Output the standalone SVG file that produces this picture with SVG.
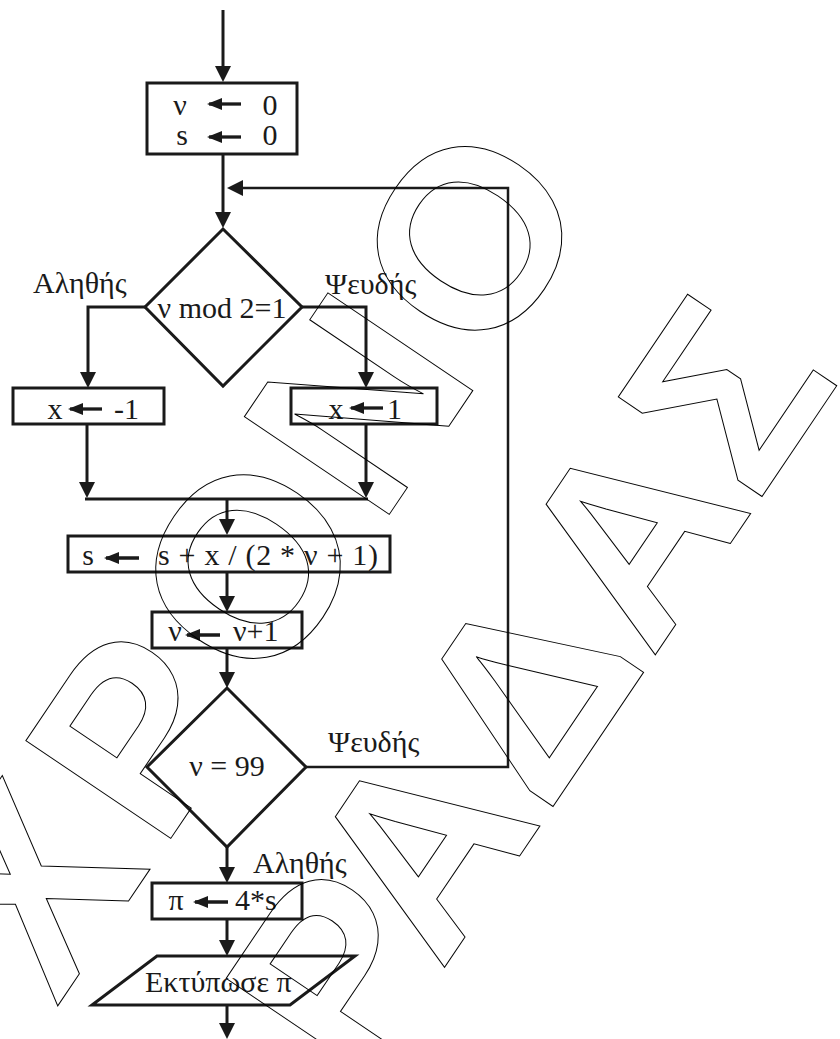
<svg xmlns="http://www.w3.org/2000/svg" width="840" height="1039" viewBox="0 0 840 1039">
<style>
.ln{fill:none;stroke:#1a1a1a;stroke-width:3}
.lp{fill:none;stroke:#1a1a1a;stroke-width:2.5}
.box{fill:none;stroke:#1a1a1a;stroke-width:3}
.sa{fill:none;stroke:#1a1a1a;stroke-width:3.3}
.t{font-family:"Liberation Serif","Times New Roman",serif;font-size:30px;fill:#1a1a1a}
.m{text-anchor:middle}
.wm{font-family:"Liberation Sans",Arial,sans-serif;font-weight:bold;font-size:254px;fill:none;stroke:#000;stroke-width:1}
</style>
<defs>
<marker id="ah" viewBox="0 0 16 16" markerUnits="userSpaceOnUse" markerWidth="16" markerHeight="16" refX="12" refY="8" orient="auto"><path d="M0,0 L16,8 L0,16 z" fill="#1a1a1a"/></marker>
<marker id="sh" viewBox="0 0 15 12" markerUnits="userSpaceOnUse" markerWidth="15" markerHeight="12" refX="13" refY="6" orient="auto"><path d="M0,0 L15,6 L0,12 z" fill="#1a1a1a"/></marker>
</defs>
<rect width="840" height="1039" fill="#fff"/>
<g id="connectors">
<path class="ln" d="M223,10 V78" marker-end="url(#ah)"/>
<path class="ln" d="M223,154 V224" marker-end="url(#ah)"/>
<path class="lp" d="M306,767 H508 V188 H231" marker-end="url(#ah)"/>
<path class="ln" d="M145,307 H88 V384" marker-end="url(#ah)"/>
<path class="ln" d="M302,307 H366 V384" marker-end="url(#ah)"/>
<path class="ln" d="M87,424 V494" marker-end="url(#ah)"/>
<path class="ln" d="M366,424 V494" marker-end="url(#ah)"/>
<path class="ln" d="M85,499 H368"/>
<path class="ln" d="M227,499 V531" marker-end="url(#ah)"/>
<path class="ln" d="M227,572 V608" marker-end="url(#ah)"/>
<path class="ln" d="M227,648 V684" marker-end="url(#ah)"/>
<path class="ln" d="M227,847 V879" marker-end="url(#ah)"/>
<path class="ln" d="M227,919 V952" marker-end="url(#ah)"/>
<path class="ln" d="M227,1005 V1035" marker-end="url(#ah)"/>
<text class="t" x="33" y="293">Αληθής</text>
<text class="t" x="325" y="294">Ψευδής</text>
<text class="t" x="328" y="752">Ψευδής</text>
<text class="t" x="253" y="873">Αληθής</text>
</g>
<g id="init">
<rect class="box" x="147" y="83" width="150" height="71"/>
<text class="t m" x="180" y="115">ν</text>
<path class="sa" d="M241,104 H209" marker-end="url(#sh)"/>
<text class="t m" x="270" y="115">0</text>
<text class="t m" x="182" y="145">s</text>
<path class="sa" d="M241,137 H209" marker-end="url(#sh)"/>
<text class="t m" x="270" y="145">0</text>
</g>
<g id="cond1">
<polygon class="box" points="223,229 302,307 223,386 145,307"/>
<text class="t m" x="222" y="318">ν mod 2=1</text>
</g>
<g id="xneg">
<rect class="box" x="13" y="388" width="151" height="36"/>
<text class="t m" x="55" y="419">x</text>
<path class="sa" d="M102,409 H70" marker-end="url(#sh)"/>
<text class="t" x="114" y="419">-1</text>
</g>
<g id="xpos">
<rect class="box" x="291" y="388" width="146" height="36"/>
<text class="t m" x="336" y="419">x</text>
<path class="sa" d="M383,408 H351" marker-end="url(#sh)"/>
<text class="t" x="387" y="419">1</text>
</g>
<g id="sum">
<rect class="box" x="68" y="536" width="322" height="36"/>
<text class="t m" x="88" y="565">s</text>
<path class="sa" d="M139,558 H106" marker-end="url(#sh)"/>
<text class="t" x="158" y="565" textLength="220" lengthAdjust="spacing">s + x / (2 * ν + 1)</text>
</g>
<g id="inc">
<rect class="box" x="152" y="612" width="150" height="36"/>
<text class="t m" x="175" y="641">ν</text>
<path class="sa" d="M220,635 H187" marker-end="url(#sh)"/>
<text class="t" x="233" y="641">ν+1</text>
</g>
<g id="cond2">
<polygon class="box" points="227,688 306,767 227,847 147,767"/>
<text class="t m" x="227" y="776">ν = 99</text>
</g>
<g id="pi">
<rect class="box" x="152" y="883" width="150" height="36"/>
<text class="t m" x="176" y="910">π</text>
<path class="sa" d="M228,902 H195" marker-end="url(#sh)"/>
<text class="t" x="235" y="910">4*s</text>
</g>
<g id="print">
<polygon class="box" points="157,956 355,956 290,1005 92,1005"/>
<text class="t" x="145" y="992">Εκτύπωσε π</text>
</g>
<g id="watermark" transform="translate(559,472) rotate(-56)">
<text class="wm" x="-725 -538 -351 -147 45" y="-117">ΧΡΟΝΟ</text>
<text class="wm" x="-623 -481 -291 -104 82" y="182">ΡΑΔΑΣ</text>
</g>
</svg>
